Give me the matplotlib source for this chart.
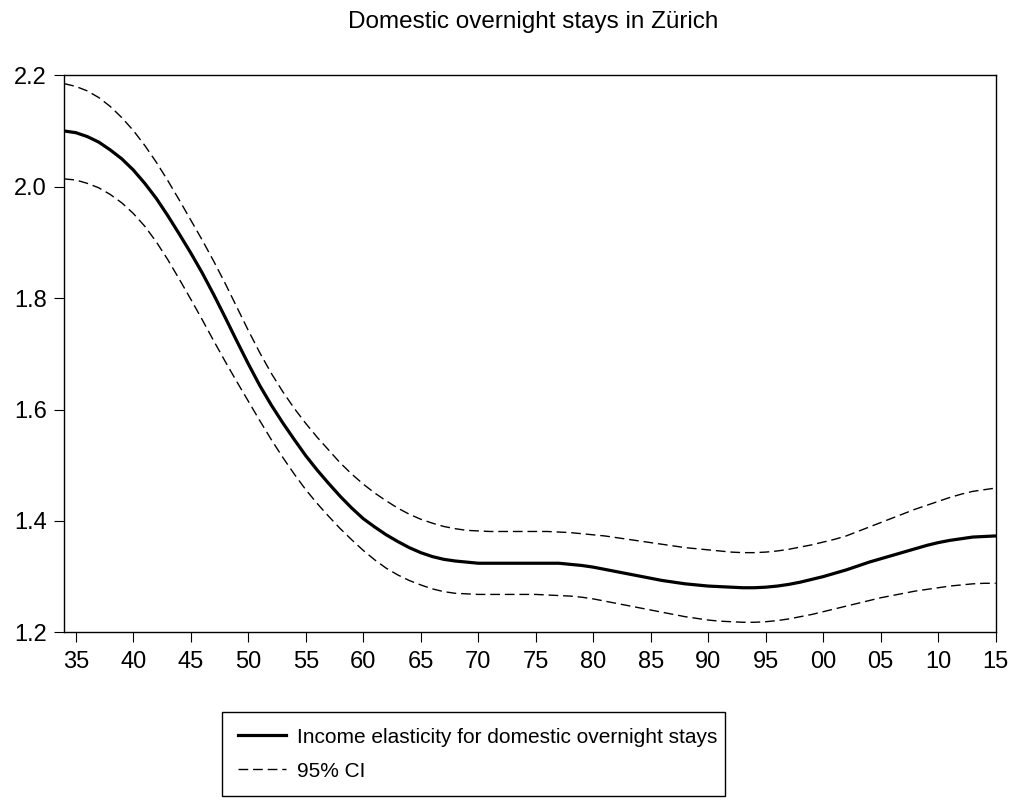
import matplotlib
matplotlib.use("Agg")
import matplotlib.pyplot as plt

# Annual estimates, 1934-2015
years = list(range(1934, 2016))

elasticity = [
    2.100, 2.097, 2.090, 2.080, 2.066, 2.050, 2.030, 2.006, 1.979, 1.948,
    1.915, 1.881, 1.845, 1.806, 1.765, 1.723, 1.682, 1.643, 1.608, 1.576,
    1.546, 1.517, 1.491, 1.467, 1.444, 1.423, 1.404, 1.389, 1.375, 1.363,
    1.352, 1.343, 1.336, 1.331, 1.328, 1.326, 1.324, 1.324, 1.324, 1.324,
    1.324, 1.324, 1.324, 1.324, 1.322, 1.320, 1.317, 1.313, 1.309, 1.305,
    1.301, 1.297, 1.293, 1.290, 1.287, 1.285, 1.283, 1.282, 1.281, 1.280,
    1.280, 1.281, 1.283, 1.286, 1.290, 1.295, 1.300, 1.306, 1.312, 1.319,
    1.326, 1.332, 1.338, 1.344, 1.350, 1.356, 1.361, 1.365, 1.368, 1.371,
    1.372, 1.373,
]

ci_upper = [
    2.185, 2.180, 2.172, 2.160, 2.144, 2.124, 2.101, 2.074, 2.044, 2.011,
    1.976, 1.940, 1.904, 1.866, 1.826, 1.784, 1.742, 1.702, 1.665, 1.632,
    1.602, 1.575, 1.550, 1.527, 1.504, 1.484, 1.466, 1.450, 1.436, 1.423,
    1.412, 1.403, 1.396, 1.390, 1.386, 1.383, 1.382, 1.381, 1.381, 1.381,
    1.381, 1.381, 1.381, 1.380, 1.379, 1.377, 1.375, 1.373, 1.370, 1.367,
    1.364, 1.361, 1.358, 1.355, 1.352, 1.350, 1.348, 1.346, 1.344, 1.343,
    1.343, 1.344, 1.346, 1.349, 1.353, 1.357, 1.362, 1.367, 1.373, 1.381,
    1.389, 1.397, 1.405, 1.413, 1.421, 1.428, 1.435, 1.442, 1.448, 1.453,
    1.456, 1.459,
]

ci_lower = [
    2.014, 2.012, 2.006, 1.998, 1.986, 1.971, 1.952, 1.929, 1.901, 1.869,
    1.834, 1.798, 1.761, 1.723, 1.686, 1.650, 1.615, 1.580, 1.546, 1.514,
    1.484, 1.456, 1.431, 1.408, 1.386, 1.366, 1.347, 1.330, 1.315, 1.303,
    1.293, 1.285, 1.278, 1.273, 1.270, 1.269, 1.268, 1.268, 1.268, 1.268,
    1.268, 1.268, 1.267, 1.266, 1.265, 1.263, 1.260, 1.256, 1.252, 1.248,
    1.244, 1.240, 1.236, 1.232, 1.228, 1.225, 1.222, 1.220, 1.219, 1.218,
    1.218, 1.219, 1.221, 1.224, 1.228, 1.232, 1.237, 1.242, 1.247, 1.252,
    1.257, 1.262, 1.266, 1.270, 1.274, 1.277, 1.280, 1.283, 1.285, 1.287,
    1.288, 1.288,
]

x_ticks = list(range(1935, 2016, 5))
x_tick_labels = [f"{y % 100:02d}" for y in x_ticks]
y_ticks = [1.2, 1.4, 1.6, 1.8, 2.0, 2.2]

plt.rcParams['font.family'] = ['Liberation Sans', 'DejaVu Sans']

fig = plt.figure(figsize=(10.13, 8.09), dpi=100)
ax = fig.add_axes([64.3 / 1013, 1 - 632.3 / 809, (995.7 - 64.3) / 1013, (632.3 - 75.3) / 809])

ax.plot(years, elasticity, color='black', linewidth=2.3,
        label='Income elasticity for domestic overnight stays')
ax.plot(years, ci_upper, color='black', linewidth=1.0, dashes=(7, 3.5), label='95% CI')
ax.plot(years, ci_lower, color='black', linewidth=1.0, dashes=(7, 3.5))

ax.set_xlim(1934, 2015)
ax.set_ylim(1.2, 2.2)
ax.set_xticks(x_ticks)
ax.set_xticklabels(x_tick_labels)
ax.set_yticks(y_ticks)
ax.set_yticklabels([f"{v:.1f}" for v in y_ticks])
ax.tick_params(axis='both', direction='out', length=7.5, width=0.8, labelsize=17,
               top=False, right=False)
ax.tick_params(axis='x', pad=6)
ax.tick_params(axis='y', pad=5)
for spine in ax.spines.values():
    spine.set_linewidth(1.0)

fig.text(533 / 1013, 1 - 28 / 809, 'Domestic overnight stays in Zürich',
         ha='center', va='baseline', fontsize=17.5)

handles, labels = ax.get_legend_handles_labels()
leg = fig.legend(handles, labels, loc='upper left',
                 bbox_to_anchor=(222 / 1013, 1 - 720 / 809, (725 - 222) / 1013, 0.01),
                 mode='expand', prop={'size': 15}, frameon=True, fancybox=False,
                 edgecolor='black', framealpha=1, handlelength=2.3, handletextpad=0.55,
                 borderpad=0.75, labelspacing=0.72, borderaxespad=0)
leg.get_frame().set_linewidth(1.0)

fig.savefig('out.png', dpi=100)
